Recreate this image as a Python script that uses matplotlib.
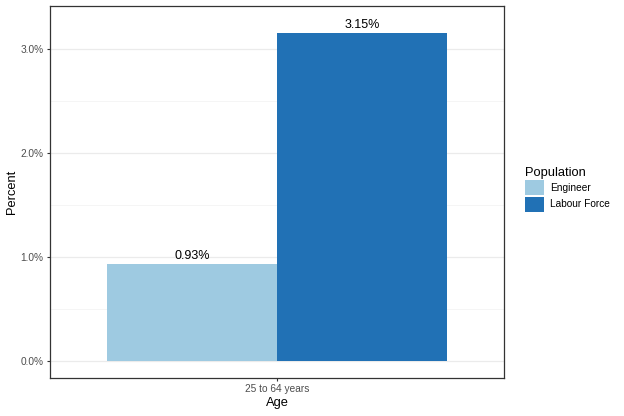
import matplotlib
matplotlib.use("Agg")
import matplotlib.pyplot as plt
from matplotlib.patches import Patch
from matplotlib.ticker import FuncFormatter, MultipleLocator

categories = ["25 to 64 years"]
series = ["Engineer", "Labour Force"]
values = [0.93, 3.15]
colors = ["#9ECAE1", "#2171B5"]

plt.rcParams['font.family'] = ['Liberation Sans', 'DejaVu Sans']

fig = plt.figure(figsize=(6.24, 4.16), dpi=100)
ax = fig.add_axes([50/624, 38/416, 454/624, 372/416])

width = 0.9
n = len(series)
for i, (s, v, c) in enumerate(zip(series, values, colors)):
    x = 1 - width/2 + width/n*(i + 0.5)
    ax.bar(x, v, width=width/n, color=c, zorder=3)
    ax.text(x, v + 0.02, f"{v:.2f}%", ha='center', va='bottom', fontsize=9, color='black', zorder=4)

ax.set_xlim(0.4, 1.6)
ax.set_ylim(-0.16, 3.41)
ax.set_xticks([1])
ax.set_xticklabels(categories)
ax.yaxis.set_major_locator(MultipleLocator(1.0))
ax.yaxis.set_minor_locator(MultipleLocator(0.5))
ax.yaxis.set_major_formatter(FuncFormatter(lambda v, p: f"{v:.1f}%"))
ax.grid(axis='y', which='major', color='#EBEBEB', linewidth=0.9, zorder=0)
ax.grid(axis='y', which='minor', color='#F2F2F2', linewidth=0.5, zorder=0)
ax.tick_params(axis='both', which='major', labelsize=7.3, length=2.5, color='#333333', labelcolor='#4D4D4D', pad=2)
ax.tick_params(axis='y', which='minor', length=0)
for sp in ax.spines.values():
    sp.set_color('#333333')
    sp.set_linewidth(0.9)
ax.set_xlabel("Age", fontsize=9.3, labelpad=2)
ax.set_ylabel("Percent", fontsize=9.3, labelpad=2)

handles = [Patch(facecolor=c, edgecolor='none', label=s) for s, c in zip(series, colors)]
leg = fig.legend(handles=handles, title="Population", loc='upper left',
                 bbox_to_anchor=(516/624, 1 - 158/416), frameon=False,
                 fontsize=7.3, title_fontsize=9.3, handlelength=1.9, handleheight=1.9,
                 handletextpad=0.6, labelspacing=0.12)
leg._legend_box.align = "left"

fig.savefig("out.png", dpi=100)
